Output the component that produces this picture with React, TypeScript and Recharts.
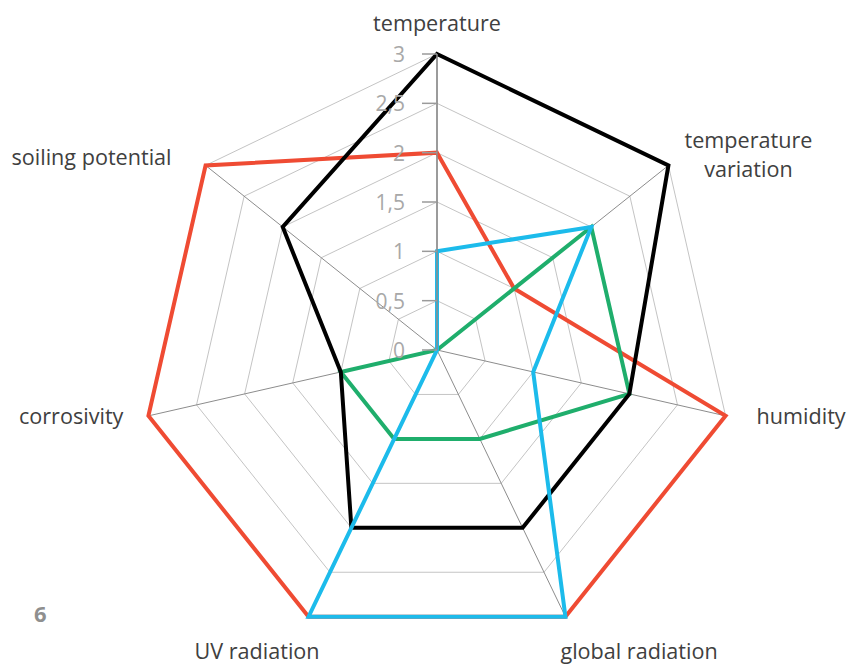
import React from 'react';
import { RadarChart, Radar, PolarGrid, PolarAngleAxis, PolarRadiusAxis } from 'recharts';

const categories = ['temperature', 'temperature variation', 'humidity', 'global radiation', 'UV radiation', 'corrosivity', 'soiling potential'];
const redSeries = [2, 1, 3, 3, 3, 3, 3];
const greenSeries = [0, 2, 2, 1, 1, 1, 0];
const blackSeries = [3, 3, 2, 2, 2, 1, 2];
const cyanSeries = [1, 2, 1, 3, 3, 0, 0];
const radiusTicks = [0, 0.5, 1, 1.5, 2, 2.5, 3];

const data = categories.map((name, i) => ({
  name,
  red: redSeries[i],
  green: greenSeries[i],
  black: blackSeries[i],
  cyan: cyanSeries[i],
}));

const CX = 437;
const CY = 350;
const R = 296;
const FONT = '"Open Sans", "Noto Sans", sans-serif';

// label placement relative to each axis end (style only)
const labelStyle: { dx: number; dy: number; anchor: 'start' | 'middle' | 'end'; lines?: number[] }[] = [
  { dx: 0, dy: -23, anchor: 'middle' },
  { dx: 80, dy: -17.5, anchor: 'middle', lines: [0, 29] },
  { dx: 31, dy: 8, anchor: 'start' },
  { dx: -5, dy: 42, anchor: 'start' },
  { dx: 11, dy: 42, anchor: 'end' },
  { dx: -25, dy: 8, anchor: 'end' },
  { dx: -34, dy: 0, anchor: 'end' },
];

const AngleTick = (props: any) => {
  const { x, y, payload, index } = props;
  const vx0 = x - CX;
  const vy0 = y - CY;
  const d = Math.sqrt(vx0 * vx0 + vy0 * vy0) || 1;
  const px = CX + (vx0 / d) * R;
  const py = CY + (vy0 / d) * R;
  const st = labelStyle[index] || { dx: 0, dy: 0, anchor: 'middle' };
  const text: string = payload.value;
  if (st.lines) {
    const parts = ['temperature', 'variation'];
    return (
      <text textAnchor={st.anchor} fontFamily={FONT} fontSize={21.6} fill="#404040">
        {parts.map((p, i) => (
          <tspan key={i} x={px + st.dx} y={py + st.dy + st.lines![i]}>{p}</tspan>
        ))}
      </text>
    );
  }
  return (
    <text x={px + st.dx} y={py + st.dy} textAnchor={st.anchor} fontFamily={FONT} fontSize={21.6} fill="#404040">
      {text}
    </text>
  );
};

const RadiusTick = (props: any) => {
  const { x, y, payload } = props;
  const label = String(payload.value).replace('.', ',');
  return (
    <g>
      <line x1={x - 15} y1={y} x2={x} y2={y} stroke="#9a9a9a" strokeWidth={1.5} />
      <text x={x - 32} y={y + 8} textAnchor="end" fontFamily={FONT} fontSize={21} fill="#a8a8a8">
        {label}
      </text>
    </g>
  );
};

export default function App() {
  return (
    <div style={{ position: 'absolute', left: 0, top: 0, width: 847, height: 664, background: '#fff' }}>
      <RadarChart width={847} height={664} data={data} cx={CX} cy={CY} outerRadius={R} margin={{ top: 0, right: 0, bottom: 0, left: 0 }}>
        <PolarGrid gridType="polygon" radialLines={false} stroke="#c4c4c4" strokeWidth={1} />
        <PolarGrid gridType="polygon" polarRadius={[]} stroke="#8c8c8c" strokeWidth={1} />
        <PolarAngleAxis dataKey="name" tick={<AngleTick />} tickLine={false} axisLine={false} />
        <PolarRadiusAxis
          angle={90}
          domain={[0, 3]}
          ticks={radiusTicks as any}
          tickCount={7}
          orientation="left"
          axisLine={{ stroke: '#8c8c8c', strokeWidth: 1.5 }}
          tick={<RadiusTick />}
        />
        <Radar dataKey="red" stroke="#ef4b33" strokeWidth={4} fill="none" fillOpacity={0} dot={false} isAnimationActive={false} />
        <Radar dataKey="green" stroke="#1fae6c" strokeWidth={4} fill="none" fillOpacity={0} dot={false} isAnimationActive={false} />
        <Radar dataKey="black" stroke="#000000" strokeWidth={4} fill="none" fillOpacity={0} dot={false} isAnimationActive={false} />
        <Radar dataKey="cyan" stroke="#1cbbeb" strokeWidth={4} fill="none" fillOpacity={0} dot={false} isAnimationActive={false} />
      </RadarChart>
      <div style={{ position: 'absolute', left: 34, top: 598, fontFamily: FONT, fontWeight: 700, fontSize: 22, color: '#8f8f8f', lineHeight: '30px' }}>6</div>
    </div>
  );
}
